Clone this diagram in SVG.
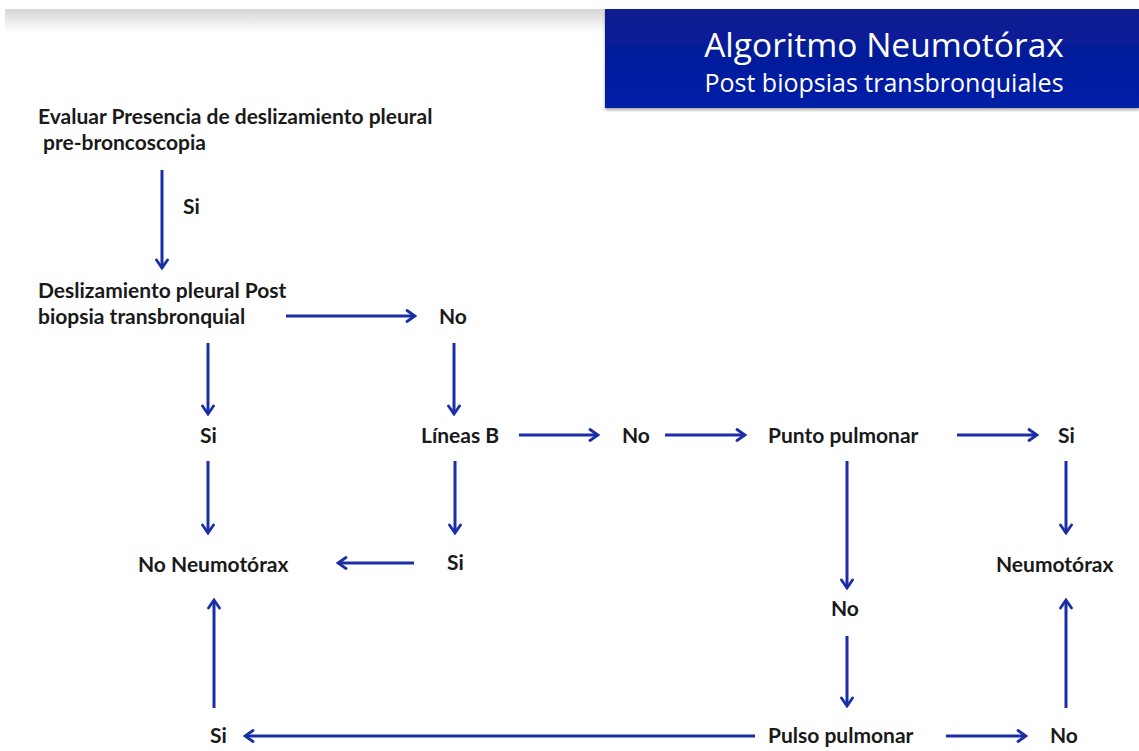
<svg xmlns="http://www.w3.org/2000/svg" width="1139" height="751" viewBox="0 0 1139 751">
<defs>
<linearGradient id="band" x1="0" y1="0" x2="0" y2="1">
<stop offset="0" stop-color="#d6d6d6"/>
<stop offset="1" stop-color="#ffffff"/>
</linearGradient>
<linearGradient id="hdr" x1="0" y1="0" x2="0" y2="1">
<stop offset="0" stop-color="#0a1a8f"/>
<stop offset="1" stop-color="#0020a8"/>
</linearGradient>
<filter id="sh" x="-5%" y="-5%" width="110%" height="120%">
<feDropShadow dx="0" dy="2" stdDeviation="1.5" flood-color="#000" flood-opacity="0.35"/>
</filter>
<marker id="ah" viewBox="0 0 14 14" refX="12" refY="7" markerWidth="14" markerHeight="14" markerUnits="userSpaceOnUse" orient="auto">
<polyline points="4,1.5 12,7 4,12.5" fill="none" stroke="#1a2ea6" stroke-width="2.8" stroke-linejoin="miter" stroke-linecap="round"/>
</marker>
</defs>
<style>
.t{font-family:Lato,"Liberation Sans",sans-serif;font-weight:700;font-size:21px;fill:#1a1a1a}
.h{font-family:"Open Sans","Liberation Sans",sans-serif;fill:#ffffff;text-anchor:middle}
.c line{stroke:#1a2ea6;stroke-width:3;marker-end:url(#ah)}
</style>
<rect width="1139" height="751" fill="#ffffff"/>
<rect x="5" y="9" width="1134" height="24" fill="url(#band)"/>
<g id="header">
<rect x="605" y="9" width="534" height="99" fill="url(#hdr)" filter="url(#sh)"/>
<text class="h" x="884" y="57" font-size="33.5">Algoritmo Neumotórax</text>
<text class="h" x="884" y="92" font-size="25">Post biopsias transbronquiales</text>
</g>
<g id="n-evaluar"><text class="t" x="38" y="124">Evaluar Presencia de deslizamiento pleural</text><text class="t" x="43" y="150">pre-broncoscopia</text></g>
<g id="l-si1"><text class="t" x="183" y="214">Si</text></g>
<g id="n-desliz"><text class="t" x="38" y="298">Deslizamiento pleural Post</text><text class="t" x="38" y="324">biopsia transbronquial</text></g>
<g id="n-no1"><text class="t" x="439" y="324">No</text></g>
<g id="n-si2"><text class="t" x="200" y="443">Si</text></g>
<g id="n-lineas"><text class="t" x="421" y="443">Líneas B</text></g>
<g id="n-no2"><text class="t" x="622" y="443">No</text></g>
<g id="n-punto"><text class="t" x="768" y="443">Punto pulmonar</text></g>
<g id="n-si3"><text class="t" x="1058" y="443">Si</text></g>
<g id="n-noneumo"><text class="t" x="138" y="572">No Neumotórax</text></g>
<g id="n-si4"><text class="t" x="447" y="570">Si</text></g>
<g id="n-neumo"><text class="t" x="996" y="572">Neumotórax</text></g>
<g id="n-no3"><text class="t" x="831" y="616">No</text></g>
<g id="n-si5"><text class="t" x="210" y="743">Si</text></g>
<g id="n-pulso"><text class="t" x="768" y="743">Pulso pulmonar</text></g>
<g id="n-no4"><text class="t" x="1050" y="743">No</text></g>
<g id="connectors" class="c">
<line x1="162" y1="170" x2="162" y2="268"/>
<line x1="286" y1="316" x2="415" y2="316"/>
<line x1="454" y1="343" x2="454" y2="414"/>
<line x1="208" y1="343" x2="208" y2="414"/>
<line x1="519" y1="435" x2="598" y2="435"/>
<line x1="665" y1="435" x2="745" y2="435"/>
<line x1="957" y1="435" x2="1037" y2="435"/>
<line x1="208" y1="461" x2="208" y2="533"/>
<line x1="455" y1="461" x2="455" y2="533"/>
<line x1="414" y1="563" x2="338" y2="563"/>
<line x1="847" y1="461" x2="847" y2="588"/>
<line x1="847" y1="636" x2="847" y2="706"/>
<line x1="1066" y1="461" x2="1066" y2="533"/>
<line x1="1066" y1="708" x2="1066" y2="600"/>
<line x1="214" y1="708" x2="214" y2="600"/>
<line x1="755" y1="736" x2="245" y2="736"/>
<line x1="946" y1="736" x2="1026" y2="736"/>
</g>
</svg>
